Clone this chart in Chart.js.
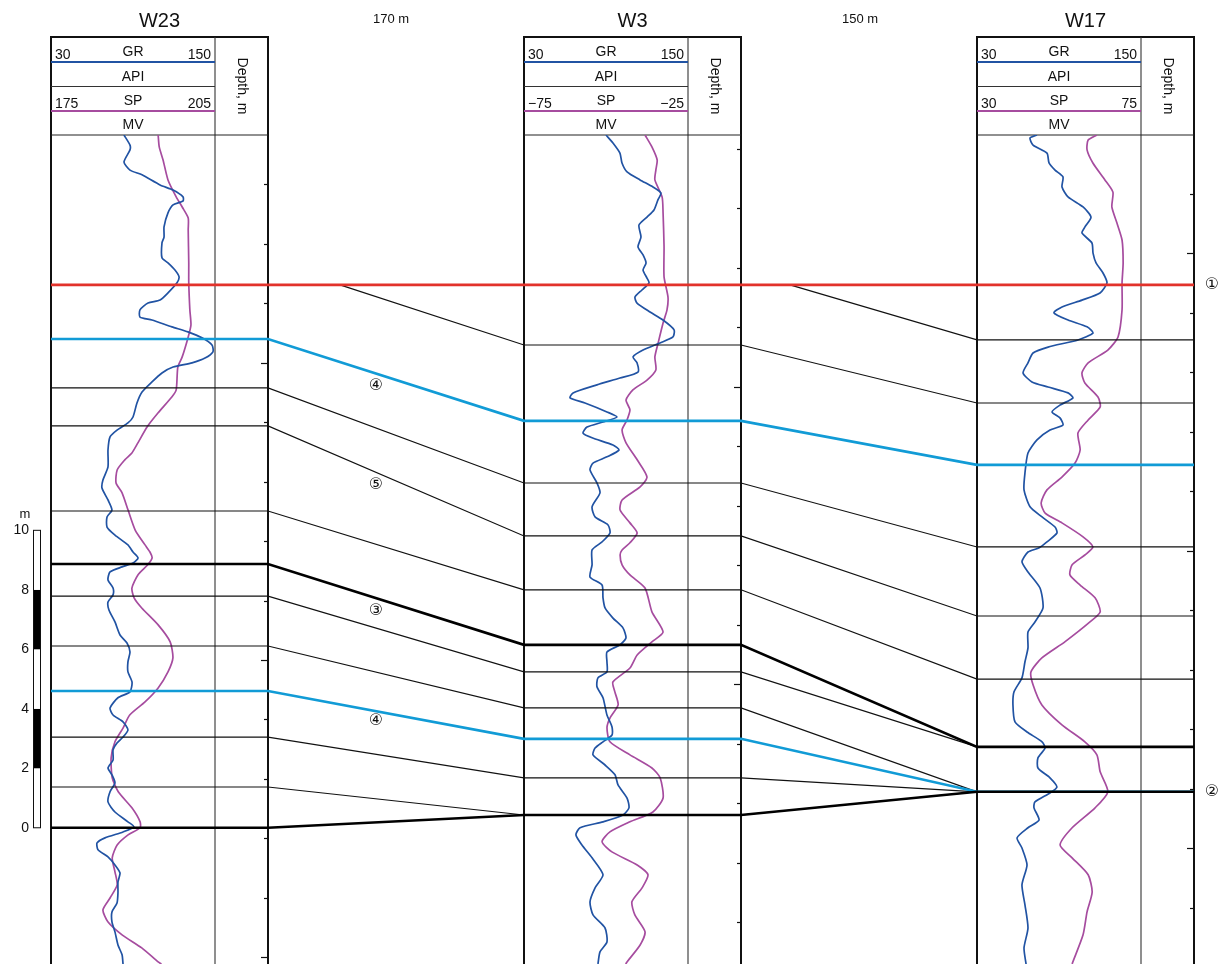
<!DOCTYPE html>
<html>
<head>
<meta charset="utf-8">
<title>Well correlation W23 - W3 - W17</title>
<script src="https://cdn.jsdelivr.net/npm/chart.js@4.4.1/dist/chart.umd.min.js"></script>
<style>
html,body{margin:0;padding:0;background:#fff;}
canvas{display:block;}
</style>
</head>
<body>
<canvas id="section" width="1219" height="964"></canvas>
<script>
const wells = ["W23", "W3", "W17"];
const spacings = ["170 m", "150 m"];
const grRange = [[30, 150], [30, 150], [30, 150]];
const spRange = [[175, 205], [-75, -25], [30, 75]];

// log readings as [depth m, value]; depth counted from the top of the section
const grW23 = [[0,83.4],[0.34,87.8],[0.5,87.8],[0.91,83.4],[1.18,87.8],[1.34,96.6],[1.68,109.8],[1.85,119.3],[2.08,126.6],[2.22,126.6],[2.35,119.3],[2.62,115.6],[3.09,112.7],[3.43,112.7],[3.63,111.2],[4.13,111.2],[4.3,115.6],[4.54,120.7],[4.77,123.7],[4.97,122.2],[5.31,115.6],[5.55,109.8],[5.65,101],[5.88,95.1],[6.12,95.1],[6.22,103.9],[6.45,118.5],[6.62,130.2],[6.82,140.5],[7.06,147.8],[7.29,148.5],[7.5,142.7],[7.66,133.2],[7.8,119.3],[8,111.2],[8.3,103.9],[8.64,96.6],[9.01,92.9],[9.48,90],[9.68,86.3],[9.92,78.3],[10.15,73.2],[10.59,71.7],[11.16,71.7],[11.6,68],[11.87,67.3],[12.27,71.7],[12.61,74.6],[12.84,71],[13.18,71],[13.45,76.8],[13.78,86.3],[14.02,90],[14.22,93.7],[14.39,90],[14.52,82],[14.69,73.2],[14.96,71.7],[15.23,75.4],[15.46,75.4],[15.7,71.7],[15.97,72.4],[16.37,76.8],[16.81,80.5],[17.08,85.6],[17.38,87.8],[17.71,86.3],[18.05,86.3],[18.39,89.3],[18.72,87.8],[18.92,79],[19.26,73.2],[19.5,75.4],[19.73,82.7],[20,86.3],[20.24,82.7],[20.44,78.3],[20.67,75.4],[21.01,75.4],[21.28,71.7],[21.51,74.6],[21.78,76.8],[22.08,73.2],[22.42,71.7],[22.76,76.8],[23.09,86.3],[23.26,90.7],[23.43,82.7],[23.63,69.5],[23.8,63.7],[24.03,64.4],[24.27,71.7],[24.54,76.8],[24.81,80.5],[25.11,79],[25.48,79],[25.82,78.3],[26.12,74.6],[26.45,74.6],[26.79,76.8],[27.23,79],[27.56,82],[27.87,82.7]];
const spW23 = [[0,194.6],[0.4,194.8],[0.84,195.5],[1.51,196.4],[2.08,197.9],[2.42,199],[2.79,200.1],[3.19,200.1],[4.3,200.2],[4.97,200.2],[5.88,200.4],[6.39,200.6],[6.79,200.1],[7.46,199],[7.8,198.2],[8.57,197.9],[8.81,197.1],[9.34,194.6],[9.81,192.6],[10.35,190.9],[10.69,189.8],[10.92,188.5],[11.26,187.1],[11.7,186.9],[12.03,188],[12.61,189.1],[13.28,190.4],[13.78,192.2],[14.02,193.1],[14.22,193.5],[14.45,192.7],[14.79,190.9],[15.23,189.8],[15.56,190.2],[15.9,191.6],[16.47,194.6],[17.04,196.8],[17.58,197.3],[18.05,196.4],[18.59,194.6],[19.06,192.2],[19.5,189.4],[19.93,188.2],[20.4,186.7],[20.94,186],[21.61,186.2],[22.08,187.3],[22.62,189.8],[23.09,191.3],[23.29,191.3],[23.53,189.1],[23.87,187.1],[24.3,186.2],[24.77,186.7],[25.21,187.1],[25.65,185.8],[26.05,184.5],[26.45,185.4],[26.89,188],[27.33,191.6],[27.8,194.6],[27.87,195.2]];
const grW3 = [[0,90],[0.27,95.1],[0.61,100.2],[0.94,101.7],[1.24,105.4],[1.51,114.9],[1.75,124.4],[1.95,130.2],[2.18,128],[2.52,125.1],[2.76,120],[3.03,114.1],[3.43,115.6],[3.76,113.4],[4.03,117.1],[4.3,119.3],[4.54,117.1],[4.81,120],[4.97,121.5],[5.21,116.3],[5.45,111.2],[5.65,112.7],[5.95,122.2],[6.22,131.7],[6.55,139.8],[6.79,139],[6.99,129.5],[7.23,117.1],[7.46,109.8],[7.66,112.7],[7.97,113.4],[8.17,100.2],[8.4,83.4],[8.67,65.9],[8.84,63.7],[9.01,74.6],[9.31,90.7],[9.48,98],[9.65,87.8],[9.82,76.1],[10.02,73.2],[10.18,79.8],[10.42,95.1],[10.59,99.5],[10.82,90.7],[11.03,80.5],[11.26,78.3],[11.7,83.4],[12.03,85.6],[12.5,79.8],[12.84,82],[13.11,91.5],[13.38,92.9],[13.68,87.1],[13.95,79.8],[14.45,79.8],[14.86,78.3],[15.13,87.1],[15.56,87.8],[15.9,89.3],[16.24,95.1],[16.57,102.4],[16.91,104.6],[17.14,100.2],[17.38,90.7],[17.71,90.7],[18.05,90.7],[18.25,84.1],[18.55,83.4],[18.92,87.8],[19.5,90.7],[19.9,94.4],[20.17,94.4],[20.4,87.8],[20.61,82],[20.84,80.5],[21.18,89.3],[21.51,96.6],[21.85,98.8],[22.29,105.4],[22.62,106.8],[22.86,102.4],[23.09,87.8],[23.29,71],[23.53,68],[23.87,72.4],[24.3,79.8],[24.87,87.8],[25.31,82],[25.78,78.3],[26.22,80.5],[26.66,89.3],[27.13,90.7],[27.46,85.6],[27.87,84.1]];
const spW3 = [[0,-38.1],[0.4,-36],[0.84,-34.4],[1.18,-34.8],[1.51,-35.1],[2.08,-32.9],[2.62,-32.6],[3.76,-32.3],[4.77,-32.3],[5.45,-31.1],[5.88,-31.4],[6.32,-32.6],[6.99,-34.1],[7.46,-35.1],[7.9,-34.8],[8.24,-37.5],[8.57,-41.8],[8.91,-43.9],[9.24,-42.7],[9.58,-43.6],[9.92,-45.1],[10.35,-43.9],[10.92,-40.5],[11.5,-37.5],[11.83,-39.6],[12.27,-45.1],[12.61,-45.7],[13.04,-42.7],[13.38,-40.5],[13.71,-42.7],[13.95,-45.1],[14.12,-45.7],[14.45,-45.1],[14.79,-42.7],[15.23,-38.1],[16.03,-36],[16.71,-32.6],[17.04,-36],[17.48,-40.5],[17.92,-42.7],[18.39,-47.9],[18.72,-47.3],[19.16,-46.3],[19.6,-48.8],[19.93,-49.7],[20.4,-48.8],[20.84,-42.7],[21.28,-36],[21.61,-33.5],[22.29,-32.6],[22.76,-35.7],[23.09,-42.7],[23.43,-48.8],[23.76,-51.2],[24.1,-48.2],[24.54,-40.5],[24.87,-37.2],[25.31,-39],[25.78,-42.1],[26.22,-41.2],[26.79,-38.1],[27.23,-39.6],[27.8,-43.6],[27.87,-44]];
const grW17 = [[0,73.9],[0.1,68.8],[0.34,71],[0.61,81.2],[0.94,82.7],[1.18,87.1],[1.41,92.9],[1.75,92.2],[2.08,96.6],[2.42,107.6],[2.76,113.4],[3.09,109],[3.29,106.8],[3.63,114.1],[3.97,114.9],[4.3,117.1],[4.64,122.2],[4.97,125.1],[5.31,120],[5.55,106.8],[5.78,92.2],[5.98,86.3],[6.22,96.6],[6.45,110.5],[6.66,114.9],[6.89,103.9],[7.13,82],[7.33,71],[7.66,67.3],[8,63.7],[8.3,70.2],[8.47,82],[8.67,96.6],[8.84,100.2],[9.08,90.7],[9.31,84.9],[9.51,90.7],[9.75,92.9],[9.92,83.4],[10.25,73.9],[10.69,67.3],[11.36,65.1],[11.93,64.4],[12.5,68.8],[12.84,77.6],[13.18,87.1],[13.38,88.5],[13.68,81.2],[13.88,75.5],[14.02,67.3],[14.35,62.9],[14.69,67.3],[15.23,76.1],[15.9,78.3],[16.37,72.4],[16.71,67.3],[17.24,67.3],[17.71,65.1],[18.25,62.9],[18.72,57.1],[19.16,56.3],[19.73,57.8],[20.07,66.6],[20.4,77.6],[20.61,79.8],[20.94,74.6],[21.28,74.6],[21.61,83.4],[21.92,88.5],[22.12,83.4],[22.42,72.4],[22.62,71.7],[23.03,75.4],[23.29,67.3],[23.63,59.3],[23.97,62.9],[24.54,66.6],[25.21,62.9],[25.88,65.1],[26.66,67.3],[27.33,64.4],[27.87,65.9]];
const spW17 = [[0,62.9],[0.17,60.5],[0.5,60.2],[0.94,61.8],[1.51,65.1],[1.92,67.3],[2.42,67],[2.96,68.4],[3.53,69.8],[4.3,70.1],[4.97,69.8],[5.88,69.8],[6.79,68.7],[7.23,65.9],[7.66,60.5],[8,58.8],[8.34,59.6],[8.81,63.2],[9.14,63.8],[9.58,60.5],[10.02,57.7],[10.59,58.3],[11.03,56.9],[11.5,53.3],[11.93,49.2],[12.37,47.6],[12.71,48.7],[13.04,53.3],[13.51,59.1],[13.85,61.8],[14.12,59.6],[14.45,56.1],[14.79,55.5],[15.13,58.3],[15.56,62.4],[16.03,63.8],[16.37,61],[17.04,54.1],[17.58,47.8],[18.05,44.8],[18.49,45.4],[19.16,47.8],[19.83,53.3],[20.4,59.6],[20.84,62.9],[21.41,63.8],[22.08,65.9],[22.62,62.4],[23.29,56.1],[23.87,52.8],[24.3,56.1],[24.87,60.5],[25.45,61.6],[26.12,60.2],[26.89,59.1],[27.8,56.3],[27.87,56.1]];

// correlated surfaces: depth in W23, W3, W17 (null = surface absent in that well)
const horizonKind = ["red", "thin", "thin", "cyan", "thin", "thin", "thin", "thick", "thin", "thin", "cyan", "thin", "thin", "thick"];
const horizonW23 = [5.04, null, null, 6.86, 8.50, 9.78, 12.64, 14.42, 15.50, 17.18, 18.69, 20.24, 21.92, 23.29];
const horizonW3  = [5.04, 7.06, null, 9.61, 11.70, 13.48, 15.29, 17.14, 18.05, 19.26, 20.30, 21.61, 22.86, 22.86];
const horizonW17 = [5.04, 9.01, 6.89, 11.09, 13.85, 16.17, 18.29, 20.57, 20.57, 22.08, 22.08, 22.08, 22.08, 22.08];

const layerMarks = ["④", "⑤", "③", "④"];
const layerMarkDepths = [8.44, 11.76, 16.0, 19.7];
const surfaceMarks = ["①", "②"];
const surfaceMarkDepths = [5.04, 22.08];

const scaleBarValues = [0, 2, 4, 6, 8, 10];
const scaleBarBase = 23.29;          // scale bar zero sits on the base surface of W23

// first 2 m depth tick of each well and the depth of its first 10 m tick
const depthTickStart = [1.65, 0.46, 1.98];
const depthTickMajor = [7.65, 8.46, 3.98];

// ---- layout ----
const CANVAS_W = 1219;
const SECTION_TOP = 135;
const SECTION_DEPTH = 27.87;
const TRACKS = [
    {left: 51, logRight: 215, right: 268},
    {left: 524, logRight: 688, right: 741},
    {left: 977, logRight: 1141, right: 1194}
];
const ONLAP_X = {1: 340, 2: 790};
const SPACING_X = [391, 860];
const LAYER_MARK_X = 376;
const FONT = '"Liberation Sans", Arial, Helvetica, sans-serif';
const GR_COLOR = "#2153a3";
const SP_COLOR = "#a64c9f";
const HSTYLE = {
    red:   {color: "#e2322b", width: 2.6, order: 1},
    cyan:  {color: "#119bd6", width: 2.6, order: 1},
    thick: {color: "#000000", width: 2.6, order: 0},
    thin:  {color: "#111111", width: 1.2, order: 2}
};

function trackAxis(lo, hi, left, right){
    const u = (hi - lo) / (right - left);
    return {type: "linear", display: false, bounds: "data", min: lo - left * u, max: hi + (CANVAS_W - right) * u};
}

function fmt(v){
    return v < 0 ? "\u2212" + Math.abs(v) : String(v);
}

function curveSet(points, axisId, color){
    return {
        data: points.map((p) => ({x: p[1], y: p[0]})),
        xAxisID: axisId, yAxisID: "y",
        borderColor: color, borderWidth: 1.7,
        tension: 0.22, pointRadius: 0, fill: false, order: 3
    };
}

function horizonSet(i){
    const depths = [horizonW23[i], horizonW3[i], horizonW17[i]];
    const pts = [];
    depths.forEach((d, w) => {
        if(d === null) return;
        if(w > 0 && depths[w - 1] === null && ONLAP_X[i] !== undefined){
            pts.push({x: ONLAP_X[i], y: horizonW23[0]});
        }
        pts.push({x: TRACKS[w].left, y: d});
        pts.push({x: TRACKS[w].right, y: d});
    });
    const st = HSTYLE[horizonKind[i]];
    return {
        data: pts, xAxisID: "xl", yAxisID: "y",
        borderColor: st.color, borderWidth: st.width,
        tension: 0, pointRadius: 0, fill: false, order: st.order
    };
}

const curveData = [[grW23, spW23], [grW3, spW3], [grW17, spW17]];
const datasets = [];
const scales = {
    y: {type: "linear", display: false, reverse: true, bounds: "data", min: 0, max: SECTION_DEPTH},
    xl: {type: "linear", display: false, bounds: "data", min: 0, max: CANVAS_W}
};
TRACKS.forEach((t, w) => {
    scales["gr" + w] = trackAxis(grRange[w][0], grRange[w][1], t.left, t.logRight);
    scales["sp" + w] = trackAxis(spRange[w][0], spRange[w][1], t.left, t.logRight);
    datasets.push(curveSet(curveData[w][0], "gr" + w, GR_COLOR));
    datasets.push(curveSet(curveData[w][1], "sp" + w, SP_COLOR));
});
horizonKind.forEach((k, i) => datasets.push(horizonSet(i)));

function line(c, x1, y1, x2, y2, color, width){
    c.beginPath();
    c.strokeStyle = color;
    c.lineWidth = width;
    c.moveTo(x1, y1);
    c.lineTo(x2, y2);
    c.stroke();
}

// titles, log headers, track frames, depth ticks and the scale bar
const sectionFrame = {
    id: "sectionFrame",
    beforeDatasetsDraw(chart){
        const c = chart.ctx;
        const ys = chart.scales.y;
        const bottom = chart.chartArea.bottom;
        c.save();
        c.fillStyle = "#111";
        c.textAlign = "center";
        c.textBaseline = "alphabetic";
        c.font = "20px " + FONT;
        TRACKS.forEach((t, w) => c.fillText(wells[w], (t.left + t.right) / 2, 27));
        c.font = "13px " + FONT;
        spacings.forEach((s, i) => c.fillText(s, SPACING_X[i], 23));

        TRACKS.forEach((t, w) => {
            const mid = (t.left + t.logRight) / 2;
            line(c, t.left - 1, 37, t.right + 1, 37, "#111", 2);
            line(c, t.left, 37, t.left, bottom, "#111", 2);
            line(c, t.right, 37, t.right, bottom, "#111", 2);
            line(c, t.logRight, 37, t.logRight, bottom, "#333", 1.1);
            line(c, t.left, 86.5, t.logRight, 86.5, "#333", 1.1);
            line(c, t.left, 135, t.right, 135, "#222", 1.2);
            line(c, t.left, 62, t.logRight, 62, GR_COLOR, 2);
            line(c, t.left, 111, t.logRight, 111, SP_COLOR, 2);

            c.fillStyle = "#111";
            c.font = "14px " + FONT;
            c.textAlign = "left";
            c.fillText(fmt(grRange[w][0]), t.left + 4, 59);
            c.fillText(fmt(spRange[w][0]), t.left + 4, 108);
            c.textAlign = "right";
            c.fillText(fmt(grRange[w][1]), t.logRight - 4, 59);
            c.fillText(fmt(spRange[w][1]), t.logRight - 4, 108);
            c.textAlign = "center";
            c.fillText("GR", mid, 56);
            c.fillText("API", mid, 81);
            c.fillText("SP", mid, 105);
            c.fillText("MV", mid, 129);

            c.save();
            c.translate((t.logRight + t.right) / 2, 86);
            c.rotate(Math.PI / 2);
            c.textBaseline = "middle";
            c.fillText("Depth, m", 0, 0);
            c.restore();

            for(let d = depthTickStart[w]; d <= SECTION_DEPTH; d += 2){
                const py = Math.round(ys.getPixelForValue(d)) + 0.5;
                const r = ((d - depthTickMajor[w]) % 10 + 10) % 10;
                const major = r < 0.01 || r > 9.99;
                line(c, t.right - (major ? 7 : 4), py, t.right, py, "#111", 1.2);
            }
        });

        // vertical scale bar
        const bx = 33, bw = 7;
        const top = ys.getPixelForValue(scaleBarBase - scaleBarValues[scaleBarValues.length - 1]);
        const base = ys.getPixelForValue(scaleBarBase - scaleBarValues[0]);
        for(let i = 0; i < scaleBarValues.length - 1; i++){
            const y1 = ys.getPixelForValue(scaleBarBase - scaleBarValues[i + 1]);
            const y2 = ys.getPixelForValue(scaleBarBase - scaleBarValues[i]);
            c.fillStyle = i % 2 === 1 ? "#000" : "#fff";
            c.fillRect(bx, y1, bw, y2 - y1);
        }
        c.strokeStyle = "#111";
        c.lineWidth = 1;
        c.strokeRect(bx + 0.5, top, bw, base - top);
        c.fillStyle = "#111";
        c.font = "14px " + FONT;
        c.textAlign = "right";
        c.textBaseline = "middle";
        scaleBarValues.forEach((v) => c.fillText(String(v), 29, ys.getPixelForValue(scaleBarBase - v)));
        c.textAlign = "center";
        c.font = "13px " + FONT;
        c.fillText("m", 25, top - 16);
        c.restore();
    },
    afterDatasetsDraw(chart){
        const c = chart.ctx;
        const ys = chart.scales.y;
        c.save();
        c.fillStyle = "#111";
        c.textAlign = "center";
        c.textBaseline = "middle";
        c.font = '16px "DejaVu Sans", "Noto Sans CJK SC", sans-serif';
        layerMarks.forEach((m, i) => c.fillText(m, LAYER_MARK_X, ys.getPixelForValue(layerMarkDepths[i])));
        surfaceMarks.forEach((m, i) => c.fillText(m, 1212, ys.getPixelForValue(surfaceMarkDepths[i])));
        c.restore();
    }
};

const sectionChart = new Chart(document.getElementById("section").getContext("2d"), {
    type: "line",
    data: {datasets},
    options: {
        responsive: false,
        animation: false,
        devicePixelRatio: 1,
        layout: {padding: {top: SECTION_TOP, left: 0, right: 0, bottom: 0}},
        plugins: {legend: {display: false}, tooltip: {enabled: false}, title: {display: false}},
        scales
    },
    plugins: [sectionFrame]
});
</script>
</body>
</html>
